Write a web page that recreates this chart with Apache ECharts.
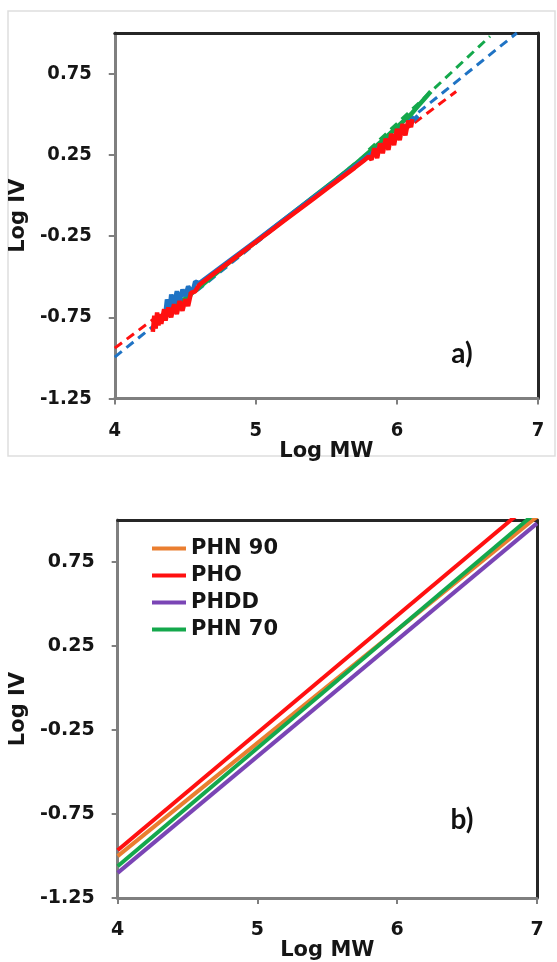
<!DOCTYPE html>
<html><head><meta charset="utf-8">
<script src="https://cdn.jsdelivr.net/npm/echarts@6/dist/echarts.min.js"></script>
<style>html,body{margin:0;padding:0;background:#fff}#c{width:557px;height:962px}</style>
</head><body><div id="c"></div>
<script>
// ---- shared axes ----
const xTicks = [4, 5, 6, 7];
const yTicks = [-1.25, -0.75, -0.25, 0.25, 0.75];

// ---- panel a) : measured Log IV vs Log MW (three samples) ----
const redData = [[4.27,-0.84],[4.28,-0.74],[4.29,-0.82],[4.30,-0.72],[4.31,-0.80],[4.32,-0.73],[4.33,-0.79],[4.35,-0.70],[4.36,-0.77],[4.38,-0.69],[4.40,-0.75],[4.42,-0.67],[4.44,-0.73],[4.46,-0.65],[4.48,-0.71],[4.50,-0.64],[4.52,-0.68],[4.54,-0.60],[4.57,-0.59],[4.60,-0.55],[4.70,-0.483],[4.80,-0.418],[4.90,-0.352],[5.00,-0.287],[5.10,-0.222],[5.20,-0.156],[5.30,-0.091],[5.40,-0.026],[5.50,0.04],[5.60,0.105],[5.70,0.17],[5.76,0.21],[5.80,0.24],[5.82,0.22],[5.84,0.29],[5.86,0.23],[5.88,0.32],[5.90,0.26],[5.92,0.35],[5.94,0.28],[5.96,0.38],[5.98,0.31],[6.00,0.41],[6.02,0.34],[6.04,0.44],[6.06,0.37],[6.08,0.46],[6.10,0.42],[6.11,0.47]];
const blueData = [[4.36,-0.72],[4.37,-0.64],[4.39,-0.70],[4.40,-0.61],[4.42,-0.67],[4.44,-0.59],[4.46,-0.65],[4.48,-0.58],[4.50,-0.62],[4.52,-0.56],[4.55,-0.60],[4.57,-0.53],[4.60,-0.54],[4.70,-0.475],[4.80,-0.41],[5.00,-0.28],[5.20,-0.148],[5.40,-0.018],[5.60,0.112],[5.80,0.245],[5.90,0.31],[6.00,0.38],[6.10,0.45],[6.15,0.49]];
const greenData = [[4.30,-0.78],[4.35,-0.74],[4.40,-0.70],[4.50,-0.635],[4.60,-0.565],[4.80,-0.42],[5.00,-0.285],[5.20,-0.15],[5.40,-0.015],[5.60,0.12],[5.70,0.19],[5.80,0.265],[5.90,0.34],[6.00,0.42],[6.05,0.46],[6.10,0.50],[6.15,0.55],[6.20,0.60],[6.24,0.64]];
const redTrend = [[4, -0.94], [6.42, 0.64]];
const blueTrend = [[4, -0.995], [6.85, 1.0]];
const greenTrend = [[5.80, 0.28], [6.66, 0.98]];

// ---- panel b) : fitted lines ----
const bNames = ['PHN 90', 'PHO', 'PHDD', 'PHN 70'];
const phn90 = [[4, -1.0], [7, 1.02]];
const pho = [[4, -0.965], [7, 1.13]];
const phdd = [[4, -1.10], [7, 0.98]];
const phn70 = [[4, -1.06], [7, 1.05]];

const C = {blue:'#1f73c4', green:'#14a84c', red:'#ff1010', orange:'#ea7e30', purple:'#7a45b5'};
const gray = '#7f7f7f', dark = '#262626';

function axesFor(gi, tickFont, tickSize, nameGapX, nameGapY) {
  const lab = {fontFamily: tickFont, fontWeight: 'bold', fontSize: tickSize, color: '#151515'};
  const nameStyle = {fontFamily: 'DejaVu Sans', fontWeight: 'bold', fontSize: 21, color: '#151515'};
  return {
    x: [
      {type:'value', gridIndex:gi, min:4, max:7, interval:1, position:'bottom',
       axisLine:{onZero:false, lineStyle:{color:gray, width:3}},
       axisTick:{show:true, length:6, lineStyle:{color:gray, width:2}},
       axisLabel:{margin:22, ...lab},
       splitLine:{show:false},
       name:'Log MW', nameLocation:'middle', nameGap:nameGapX, nameTextStyle:nameStyle},
      {type:'value', gridIndex:gi, min:4, max:7, position:'top',
       axisLine:{onZero:false, lineStyle:{color:dark, width:3}},
       axisTick:{show:false}, axisLabel:{show:false}, splitLine:{show:false}}
    ],
    y: [
      {type:'value', gridIndex:gi, min:-1.25, max:1.0, position:'left',
       axisLine:{onZero:false, lineStyle:{color:gray, width:3}},
       axisTick:{show:true, length:6, customValues:yTicks, lineStyle:{color:gray, width:2}},
       axisLabel:{margin:23, customValues:yTicks, ...lab},
       splitLine:{show:false},
       name:'Log IV', nameLocation:'middle', nameGap:nameGapY, nameRotate:90, nameTextStyle:nameStyle},
      {type:'value', gridIndex:gi, min:-1.25, max:1.0, position:'right',
       axisLine:{onZero:false, lineStyle:{color:dark, width:3}},
       axisTick:{show:false}, axisLabel:{show:false}, splitLine:{show:false}}
    ]
  };
}

const A = axesFor(0, "'DejaVu Sans Condensed', 'DejaVu Sans', sans-serif", 20, 31, 69);
const B = axesFor(1, "'DejaVu Sans', sans-serif", 19, 40, 63);

function dataLine(name, data, color, xi, yi, z) {
  return {name, type:'line', data, xAxisIndex:xi, yAxisIndex:yi, symbol:'none', z,
          lineStyle:{color, width:4.5}, itemStyle:{color}, animation:false};
}
function dashLine(data, color, xi, yi) {
  return {type:'line', data, xAxisIndex:xi, yAxisIndex:yi, symbol:'none', z:2,
          lineStyle:{color, width:3, type:[9,6]}, animation:false};
}
function fitLine(name, data, color) {
  return {name, type:'line', data, xAxisIndex:2, yAxisIndex:2, symbol:'none', z:3,
          lineStyle:{color, width:4}, itemStyle:{color}, animation:false};
}

const option = {
  animation: false,
  backgroundColor: '#fff',
  grid: [
    {left:108.5, top:33, width:429.5, height:365.5},
    {left:102.5, top:520, width:434.5, height:382}
  ],
  xAxis: [...A.x, ...B.x],
  yAxis: [...A.y, ...B.y],
  legend: {
    data: bNames, orient:'vertical', left:147, top:533, itemWidth:34, itemHeight:4, itemGap:6,
    icon:'rect', selectedMode:false,
    textStyle:{fontFamily:'DejaVu Sans', fontWeight:'bold', fontSize:21, color:'#151515', lineHeight:21}
  },
  series: [
    dashLine(greenTrend, C.green, 0, 0),
    dashLine(blueTrend, C.blue, 0, 0),
    dashLine(redTrend, C.red, 0, 0),
    dataLine('green', greenData, C.green, 0, 0, 4),
    dataLine('blue', blueData, C.blue, 0, 0, 5),
    dataLine('red', redData, C.red, 0, 0, 6),
    fitLine('PHN 90', phn90, C.orange),
    fitLine('PHO', pho, C.red),
    fitLine('PHDD', phdd, C.purple),
    fitLine('PHN 70', phn70, C.green)
  ],
  graphic: [
    {type:'rect', shape:{x:8, y:11, width:547, height:445}, style:{fill:'none', stroke:'#dedede', lineWidth:1.5}, z:-1},
    {type:'text', x:462, y:354, style:{text:'a)', font:"bold 28px Lato, 'Open Sans', sans-serif", fill:'#111', align:'center', verticalAlign:'middle'}},
    {type:'text', x:462, y:820, style:{text:'b)', font:"bold 28px Lato, 'Open Sans', sans-serif", fill:'#111', align:'center', verticalAlign:'middle'}}
  ]
};

const chart = echarts.init(document.getElementById('c'), null, {renderer:'canvas'});
chart.setOption(option);
</script>
</body></html>
